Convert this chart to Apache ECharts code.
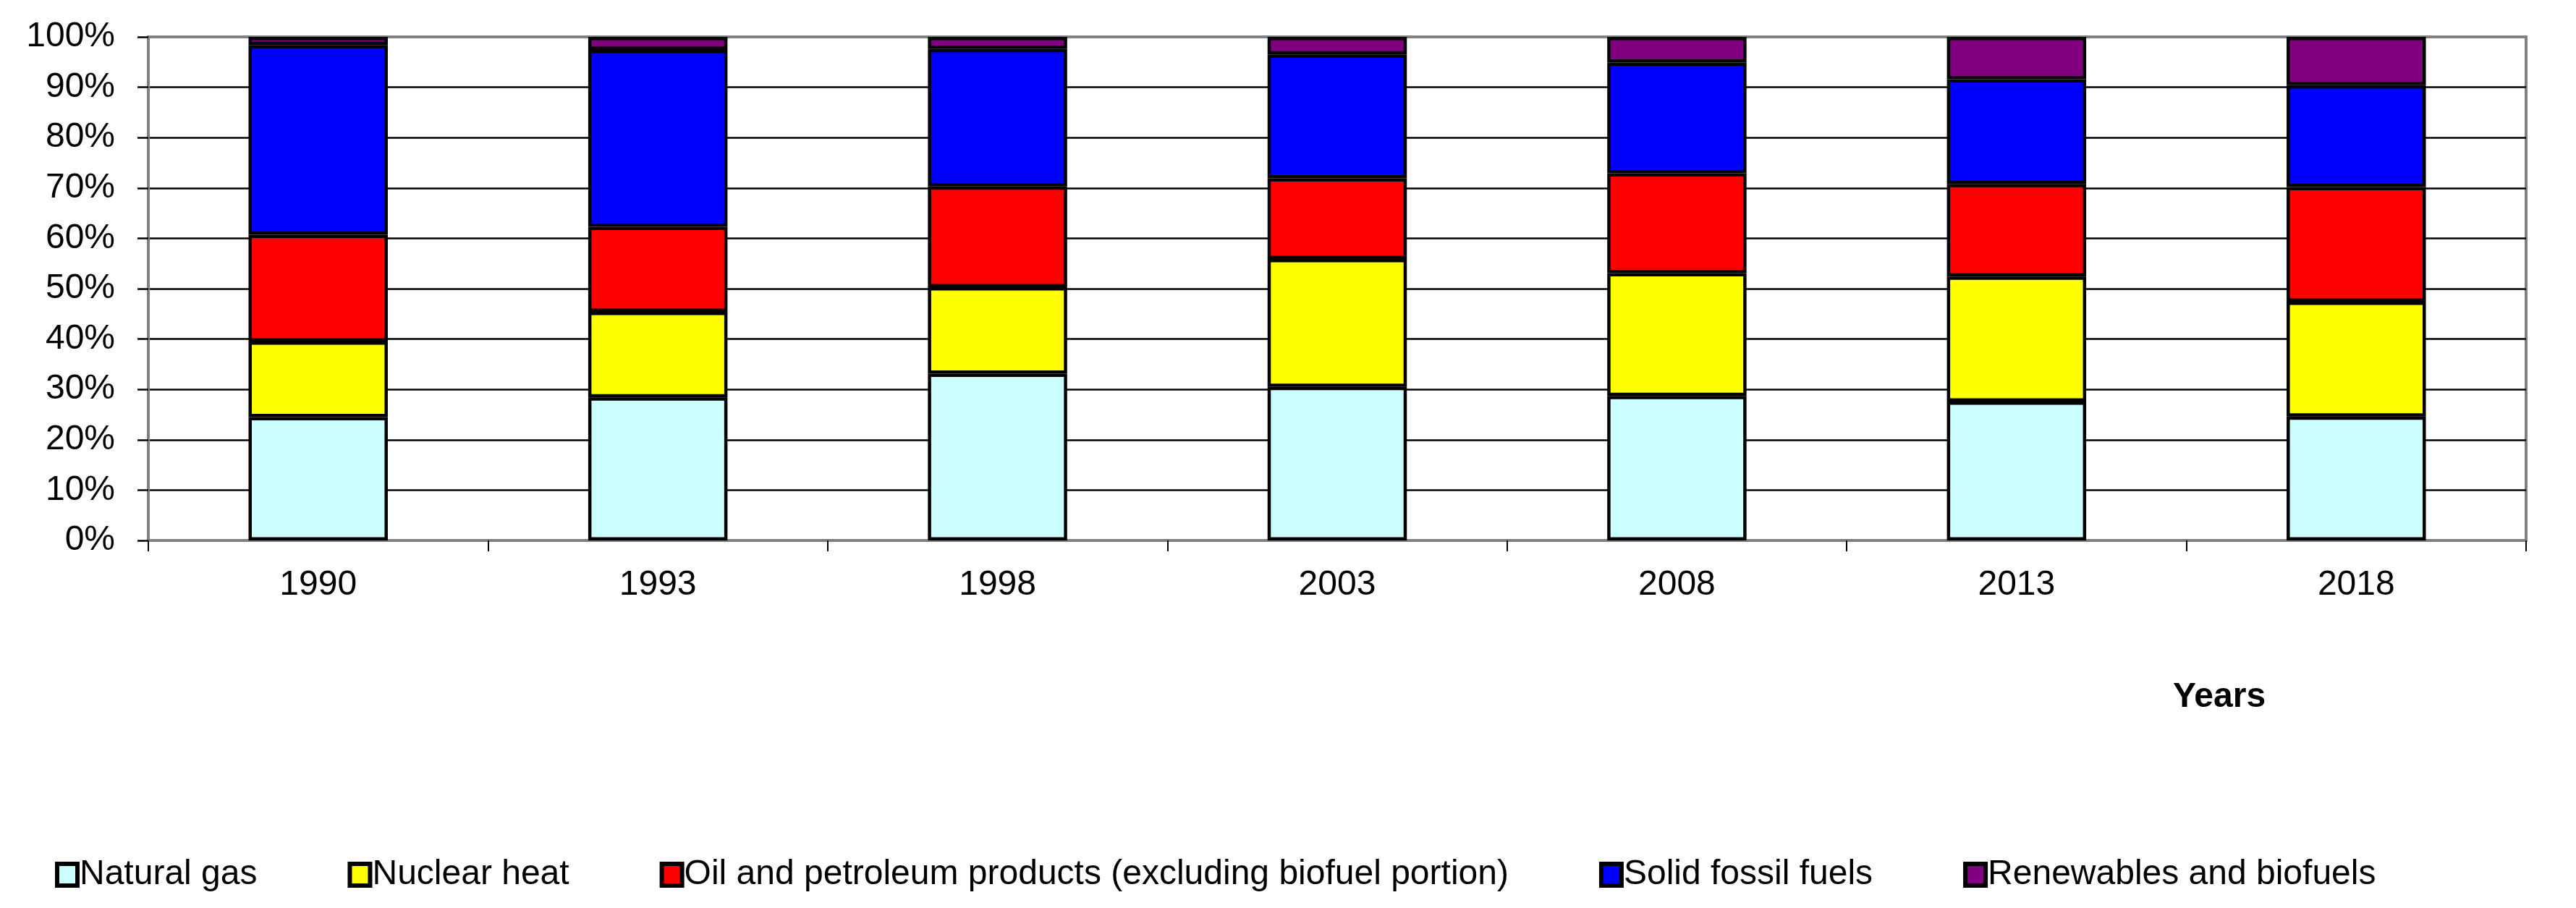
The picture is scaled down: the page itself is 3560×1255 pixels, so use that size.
<!DOCTYPE html>
<html>
<head>
<meta charset="utf-8">
<script src="https://cdn.jsdelivr.net/npm/echarts@6/dist/echarts.min.js"></script>
<style>
html,body{margin:0;padding:0;background:#fff;}
#chart{width:3560px;height:1255px;}
</style>
</head>
<body>
<div id="chart"></div>
<script>
var years = ['1990','1993','1998','2003','2008','2013','2018'];
var naturalGas = [24.5, 28.4, 33.1, 30.5, 28.7, 27.6, 24.6];
var nuclearHeat = [15.0, 17.0, 17.2, 25.4, 24.4, 24.8, 22.8];
var oilPetroleum = [21.2, 16.9, 20.0, 16.0, 19.8, 18.4, 22.8];
var solidFossil = [37.7, 35.1, 27.3, 24.6, 22.0, 20.8, 20.2];
var renewables = [1.6, 2.6, 2.4, 3.5, 5.1, 8.4, 9.6];
var yTicks = [0,10,20,30,40,50,60,70,80,90,100];

var seriesDefs = [
  {name:'Natural gas', data:naturalGas, color:'#CCFFFF'},
  {name:'Nuclear heat', data:nuclearHeat, color:'#FFFF00'},
  {name:'Oil and petroleum products (excluding biofuel portion)', data:oilPetroleum, color:'#FF0000'},
  {name:'Solid fossil fuels', data:solidFossil, color:'#0000FF'},
  {name:'Renewables and biofuels', data:renewables, color:'#800080'}
];

var font = '"Liberation Sans", Arial, sans-serif';
var chart = echarts.init(document.getElementById('chart'), null, {renderer:'canvas'});
chart.setOption({
  backgroundColor:'#ffffff',
  animation:false,
  grid:{left:205,right:69,top:51,bottom:508,show:true,borderColor:'#808080',borderWidth:4,backgroundColor:'transparent'},
  xAxis:{
    type:'category',
    data:years,
    axisLine:{lineStyle:{color:'#808080',width:4}},
    axisTick:{show:true,length:15,lineStyle:{color:'#000',width:2}},
    axisLabel:{fontFamily:font,fontSize:48,color:'#000',margin:38}
  },
  yAxis:{
    type:'value',
    min:0,max:100,interval:10,
    axisLine:{show:true,lineStyle:{color:'#808080',width:4}},
    axisTick:{show:true,length:15,lineStyle:{color:'#000',width:2.5}},
    axisLabel:{fontFamily:font,fontSize:48,color:'#000',margin:46,formatter:function(v){return v+'%';}},
    splitLine:{show:true,showMinLine:false,showMaxLine:false,lineStyle:{color:'#000',width:2.5}}
  },
  legend:{
    left:71,top:1180,
    itemWidth:28,itemHeight:30,itemGap:125,
    icon:'rect',
    textStyle:{fontFamily:font,fontSize:48,color:'#000',padding:[0,0,0,-2]},
    itemStyle:{borderColor:'#000',borderWidth:6},
    data:seriesDefs.map(function(s){return s.name;})
  },
  graphic:[{
    type:'text',
    left:3003,top:940,
    style:{text:'Years',font:'bold 48px "Liberation Sans", Arial, sans-serif',fill:'#000'}
  }],
  series:seriesDefs.map(function(s){
    return {
      name:s.name,type:'bar',stack:'total',data:s.data,
      barWidth:'41%',
      itemStyle:{color:s.color,borderColor:'#000',borderWidth:4.5}
    };
  })
});
</script>
</body>
</html>
